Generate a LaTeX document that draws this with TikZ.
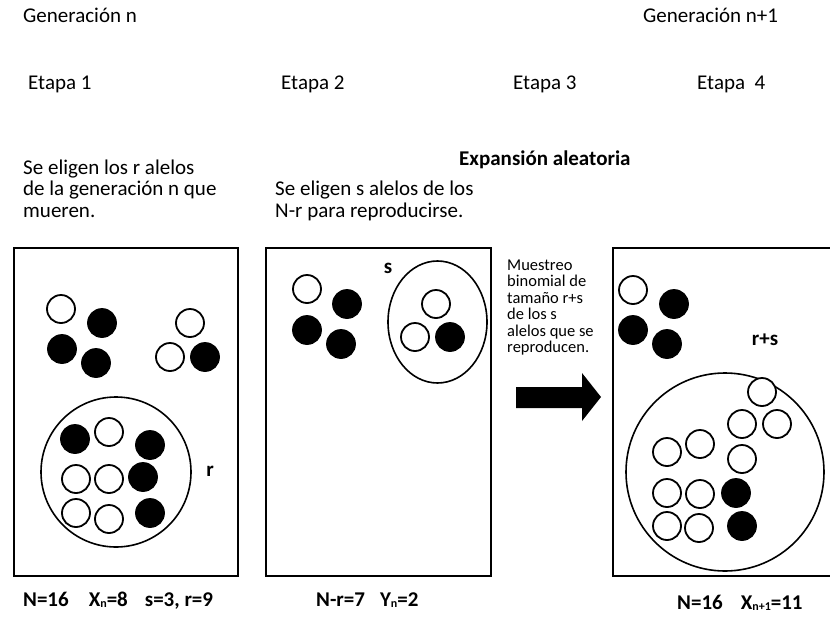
\documentclass[tikz,border=0pt]{standalone}
\usepackage{fontspec}
\setmainfont{Carlito}
\usetikzlibrary{shapes.geometric}
\newcommand\sbs[1]{\raisebox{-1.5pt}{\fontsize{12}{12}\selectfont #1}}
\begin{document}
\begin{tikzpicture}[x=1pt,y=-1pt,
  txt/.style={anchor=base west, inner sep=0, font=\fontsize{21}{21}\selectfont},
  btxt/.style={anchor=base west, inner sep=0, font=\fontsize{21}{21}\selectfont\bfseries},
  stxt/.style={anchor=base west, inner sep=0, font=\fontsize{16.5}{16.5}\selectfont},
  lbl/.style={inner sep=0, font=\fontsize{21}{21}\selectfont\bfseries},
  panel/.style={draw, line width=1.8pt, rectangle, inner sep=0, anchor=north west},
  oc/.style={circle, draw, line width=1.8pt, minimum size=28pt, inner sep=0, fill=white},
  fc/.style={oc, fill=black},
  grp/.style={draw, line width=1.6pt, inner sep=0}
]
\useasboundingbox (0,0) rectangle (830,616);

% header texts
\node[txt] (gen1) at (23,22) {Generación n};
\node[txt] (gen2) at (643,22) {Generación n+1};
\node[txt] (et1) at (28,89) {Etapa 1};
\node[txt] (et2) at (281,89) {Etapa 2};
\node[txt] (et3) at (513,89) {Etapa 3};
\node[txt] (et4) at (697,89) {Etapa~~4};
\node[btxt] (exp) at (459,165) {Expansión aleatoria};

\node[txt] (d1a) at (23,174) {Se eligen los r alelos};
\node[txt] (d1b) at (23,195) {de la generación n que};
\node[txt] (d1c) at (23,217) {mueren.};
\node[txt] (d2a) at (275,195) {Se eligen s alelos de los};
\node[txt] (d2b) at (275,217) {N-r para reproducirse.};

\node[stxt] (m1) at (507,270) {Muestreo};
\node[stxt] (m2) at (507,286.5) {binomial de};
\node[stxt] (m3) at (507,303) {tamaño r+s};
\node[stxt] (m4) at (507,319.5) {de los s};
\node[stxt] (m5) at (507,336) {alelos que se};
\node[stxt] (m6) at (507,352.5) {reproducen.};

% panels
\node[panel, minimum width=224pt, minimum height=328pt] (box1) at (13,247) {};
\node[panel, minimum width=225pt, minimum height=328pt] (box2) at (265,247) {};
\node[panel, minimum width=220pt, minimum height=328pt] (box3) at (612,247) {};

% arrow
\fill[black] (516,387) -- (582,387) -- (582,373) -- (601,397) -- (582,421) -- (582,408) -- (516,408) -- cycle;

% panel 1
\node[oc] (a1) at (61,309) {};
\node[fc] (a2) at (102,323) {};
\node[fc] (a3) at (62,349) {};
\node[fc] (a4) at (96,363) {};
\node[oc] (a5) at (190,323) {};
\node[oc] (a6) at (170,357) {};
\node[fc] (a7) at (205,357) {};
\node[grp, circle, minimum size=150pt] (rset) at (116,472) {};
\node[fc] (b1) at (75,439) {};
\node[oc] (b2) at (109,432) {};
\node[fc] (b3) at (150,445) {};
\node[oc] (b4) at (76,479) {};
\node[oc] (b5) at (109,479) {};
\node[fc] (b6) at (143,477) {};
\node[oc] (b7) at (76,513) {};
\node[oc] (b8) at (109,519) {};
\node[fc] (b9) at (150,513) {};
\node[lbl] (rl) at (210,471) {r};

% panel 2
\node[oc] (c1) at (307,289) {};
\node[fc] (c2) at (347,304) {};
\node[fc] (c3) at (307,330) {};
\node[fc] (c4) at (341,344) {};
\node[grp, ellipse, minimum width=99pt, minimum height=122pt] (sset) at (437.5,322) {};
\node[oc] (c5) at (436,304) {};
\node[oc] (c6) at (415,337) {};
\node[fc] (c7) at (450,337) {};
\node[lbl] (sl) at (388,268) {s};

% panel 3
\node[oc] (e1) at (633,290) {};
\node[fc] (e2) at (674,304) {};
\node[fc] (e3) at (633,330) {};
\node[fc] (e4) at (667,344) {};
\node[lbl] (rsl) at (765,340) {r+s};
\node[grp, circle, minimum size=198pt] (rsset) at (725,472) {};
\node[oc] (f1) at (762,392) {};
\node[oc] (f2) at (742,424) {};
\node[oc] (f3) at (777,424) {};
\node[oc] (f4) at (742,459) {};
\node[oc] (f5) at (667,452) {};
\node[oc] (f6) at (700,444) {};
\node[oc] (f7) at (667,493) {};
\node[oc] (f8) at (700,494) {};
\node[fc] (f9) at (736,493) {};
\node[oc] (f10) at (667,526) {};
\node[oc] (f11) at (699,528) {};
\node[fc] (f12) at (742,526) {};

% bottom texts
\node[btxt] (s1) at (23,606) {N=16\hspace{20pt}X\sbs{n}=8\hspace{17pt}s=3, r=9};
\node[btxt] (s2) at (316,606) {N-r=7\hspace{15pt}Y\sbs{n}=2};
\node[btxt] (s3) at (677,609) {N=16\hspace{18pt}X\sbs{n+1}=11};
\end{tikzpicture}
\end{document}
